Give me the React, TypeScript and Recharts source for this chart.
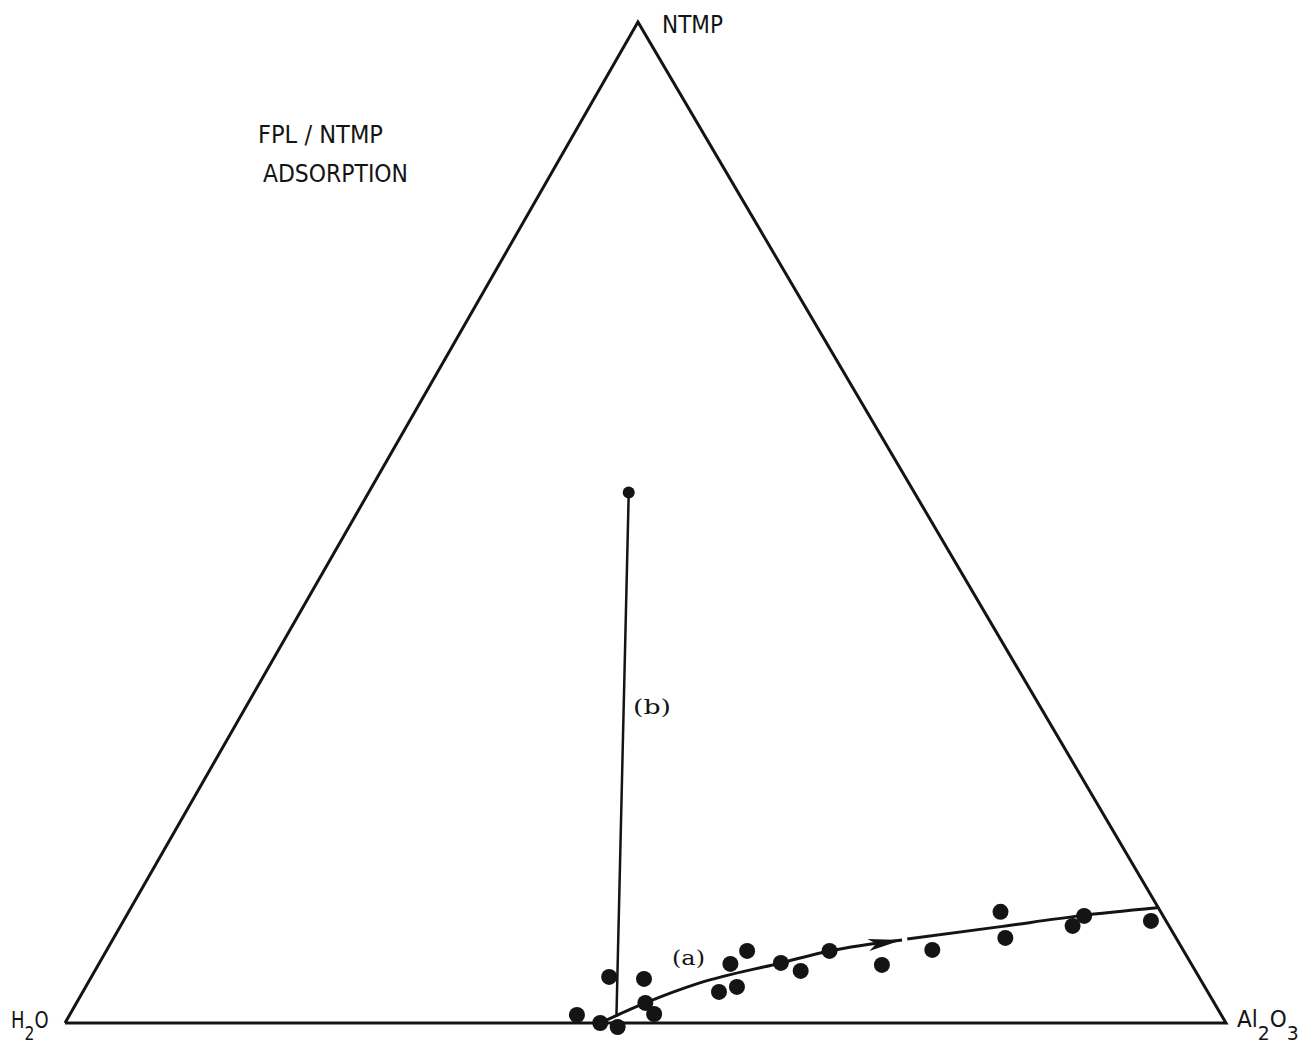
import { ComposedChart, Line, Scatter, XAxis, YAxis, Customized } from 'recharts';

// ternary compositions, percent: al = Al2O3, ntmp = NTMP (H2O is the rest)
const pointsAl = [43.7, 46.1, 47.8, 44.6, 47.7, 49.0, 50.3, 54.8, 56.1, 54.4, 55.2, 58.7, 60.8, 62.3, 67.5, 71.1, 75.1, 76.8, 82.0, 82.5, 88.5];
const pointsNtmp = [0.8, 0.0, -0.4, 4.6, 4.4, 2.0, 0.9, 3.1, 3.6, 5.9, 7.2, 6.0, 5.2, 7.2, 5.8, 7.3, 11.1, 8.5, 9.7, 10.7, 10.2];

// path (a): before the arrow, and after the small break
const pathA1Al = [46.1, 49.0, 52.7, 58.7, 62.3, 68.0];
const pathA1Ntmp = [0.0, 2.0, 4.0, 6.0, 7.2, 8.3];
const pathA2Al = [68.4, 75.7, 82.1, 88.4];
const pathA2Ntmp = [8.4, 9.6, 10.7, 11.5];

// path (b)
const pathBAl = [47.2, 22.4];
const pathBNtmp = [0.6, 53.0];

const arrowAl = [68.0];
const arrowNtmp = [8.3];

const vertexAl = [0, 0, 100];
const vertexNtmp = [0, 100, 0];

// the printed triangle leans a little: apex sits at 49.35 on the base
const APEX = 0.4935;

// ternary -> cartesian (base 0..100)
const toXY = (al: number[], ntmp: number[]) =>
  al.map((a, i) => ({ x: a + ntmp[i] * APEX, y: ntmp[i] }));

const points = toXY(pointsAl, pointsNtmp);
const pathA1 = toXY(pathA1Al, pathA1Ntmp);
const pathA2 = toXY(pathA2Al, pathA2Ntmp);
const pathB = toXY(pathBAl, pathBNtmp);
const pathBTop = [pathB[1]];
const arrow = toXY(arrowAl, arrowNtmp);
const triangle = [...toXY(vertexAl, vertexNtmp), toXY([0], [0])[0]];

const INK = '#141414';

function ArrowHead(props: any) {
  const { cx, cy } = props;
  const ang = (-8.6 * Math.PI) / 180;
  const len = 34;
  const half = 6;
  const bx = cx - len * Math.cos(ang);
  const by = cy - len * Math.sin(ang);
  const nx = -Math.sin(ang) * half;
  const ny = Math.cos(ang) * half;
  const mx = cx - (len - 8) * Math.cos(ang);
  const my = cy - (len - 8) * Math.sin(ang);
  return (
    <polygon
      points={`${cx},${cy} ${bx + nx},${by + ny} ${mx},${my} ${bx - nx},${by - ny}`}
      fill={INK}
    />
  );
}

function Labels() {
  const sans = 'DejaVu Sans';
  const serif = 'DejaVu Serif';
  const fit = 'spacingAndGlyphs';
  return (
    <g fill={INK}>
      <text x={662} y={33} fontFamily={sans} fontSize={24} textLength={61} lengthAdjust={fit}>
        NTMP
      </text>
      <g transform="translate(11,1028) scale(0.78,1)">
        <text x={0} y={0} fontFamily={sans} fontSize={23}>
          H<tspan dy={12} fontSize={20}>2</tspan><tspan dy={-12}>O</tspan>
        </text>
      </g>
      <g transform="translate(1237,1027) scale(0.94,1)">
        <text x={0} y={0} fontFamily={sans} fontSize={23}>
          Al<tspan dy={13} fontSize={20}>2</tspan><tspan dy={-13}>O</tspan><tspan dy={13} fontSize={20}>3</tspan>
        </text>
      </g>
      <text x={258} y={143} fontFamily={sans} fontSize={25} textLength={125} lengthAdjust={fit}>
        FPL / NTMP
      </text>
      <text x={263} y={182} fontFamily={sans} fontSize={25} textLength={145} lengthAdjust={fit}>
        ADSORPTION
      </text>
      <text x={672} y={965} fontFamily={serif} fontSize={20} textLength={33} lengthAdjust={fit}>(a)</text>
      <text x={633} y={714} fontFamily={serif} fontSize={20} textLength={38} lengthAdjust={fit}>(b)</text>
    </g>
  );
}

export default function App() {
  return (
    <div style={{ position: 'absolute', left: 0, top: 0, width: 1304, height: 1045, background: '#fff' }}>
      <ComposedChart width={1304} height={1045} margin={{ top: 22, right: 78, bottom: 2, left: 65 }}>
        <XAxis type="number" dataKey="x" domain={[0, 100]} hide />
        <YAxis type="number" dataKey="y" domain={[-2, 100]} hide />
        <Line data={triangle} dataKey="y" type="linear" stroke={INK} strokeWidth={3} dot={false} isAnimationActive={false} />
        <Line data={pathB} dataKey="y" type="linear" stroke={INK} strokeWidth={2.5} dot={false} isAnimationActive={false} />
        <Line data={pathA1} dataKey="y" type="monotone" stroke={INK} strokeWidth={3} dot={false} isAnimationActive={false} />
        <Line data={pathA2} dataKey="y" type="monotone" stroke={INK} strokeWidth={3} dot={false} isAnimationActive={false} />
        <Scatter data={points} dataKey="y" fill={INK} shape={(p: any) => <circle cx={p.cx} cy={p.cy} r={8} fill={INK} />} isAnimationActive={false} />
        <Scatter data={pathBTop} dataKey="y" fill={INK} shape={(p: any) => <circle cx={p.cx} cy={p.cy} r={6} fill={INK} />} isAnimationActive={false} />
        <Scatter data={arrow} dataKey="y" fill={INK} shape={ArrowHead} isAnimationActive={false} />
        <Customized component={Labels} />
      </ComposedChart>
    </div>
  );
}
